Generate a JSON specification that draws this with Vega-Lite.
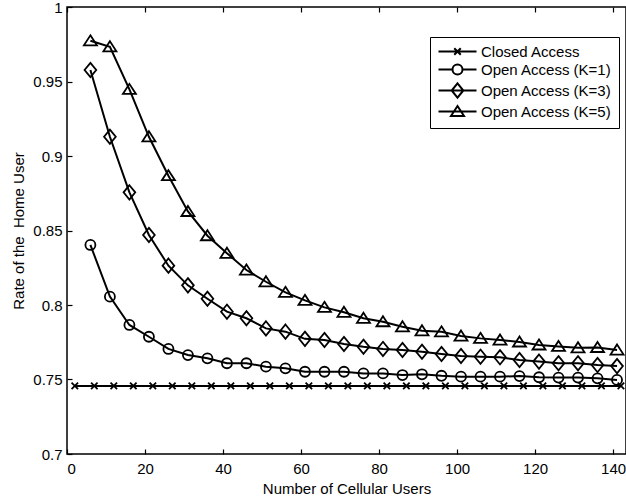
{
  "$schema": "https://vega.github.io/schema/vega-lite/v6.json",
  "width": 559,
  "height": 447,
  "autosize": {"type": "none"},
  "padding": {"left": 67, "top": 7, "right": 0, "bottom": 47},
  "background": "white",
  "config": {
    "font": "Liberation Sans",
    "view": {"stroke": "black", "strokeWidth": 1.5},
    "axis": {
      "labelFont": "Liberation Sans",
      "titleFont": "Liberation Sans",
      "labelFontSize": 15,
      "titleFontSize": 15,
      "titleFontWeight": "normal",
      "labelColor": "black",
      "titleColor": "black",
      "domain": false,
      "tickColor": "black",
      "tickWidth": 1.2,
      "tickSize": 5,
      "offset": -5,
      "grid": false
    }
  },
  "data": {
    "values": [
      {"series": "Closed Access", "x": 2, "y": 0.7457},
      {"series": "Closed Access", "x": 7, "y": 0.7457},
      {"series": "Closed Access", "x": 12, "y": 0.7457},
      {"series": "Closed Access", "x": 17, "y": 0.7457},
      {"series": "Closed Access", "x": 22, "y": 0.7457},
      {"series": "Closed Access", "x": 27, "y": 0.7457},
      {"series": "Closed Access", "x": 32, "y": 0.7457},
      {"series": "Closed Access", "x": 37, "y": 0.7457},
      {"series": "Closed Access", "x": 42, "y": 0.7457},
      {"series": "Closed Access", "x": 47, "y": 0.7457},
      {"series": "Closed Access", "x": 52, "y": 0.7457},
      {"series": "Closed Access", "x": 57, "y": 0.7457},
      {"series": "Closed Access", "x": 62, "y": 0.7457},
      {"series": "Closed Access", "x": 67, "y": 0.7457},
      {"series": "Closed Access", "x": 72, "y": 0.7457},
      {"series": "Closed Access", "x": 77, "y": 0.7457},
      {"series": "Closed Access", "x": 82, "y": 0.7457},
      {"series": "Closed Access", "x": 87, "y": 0.7457},
      {"series": "Closed Access", "x": 92, "y": 0.7457},
      {"series": "Closed Access", "x": 97, "y": 0.7457},
      {"series": "Closed Access", "x": 102, "y": 0.7457},
      {"series": "Closed Access", "x": 107, "y": 0.7457},
      {"series": "Closed Access", "x": 112, "y": 0.7457},
      {"series": "Closed Access", "x": 117, "y": 0.7457},
      {"series": "Closed Access", "x": 122, "y": 0.7457},
      {"series": "Closed Access", "x": 127, "y": 0.7457},
      {"series": "Closed Access", "x": 132, "y": 0.7457},
      {"series": "Closed Access", "x": 137, "y": 0.7457},
      {"series": "Closed Access", "x": 142, "y": 0.7457},

      {"series": "Open Access (K=1)", "x": 6, "y": 0.8403},
      {"series": "Open Access (K=1)", "x": 11, "y": 0.8056},
      {"series": "Open Access (K=1)", "x": 16, "y": 0.7866},
      {"series": "Open Access (K=1)", "x": 21, "y": 0.7787},
      {"series": "Open Access (K=1)", "x": 26, "y": 0.7705},
      {"series": "Open Access (K=1)", "x": 31, "y": 0.7664},
      {"series": "Open Access (K=1)", "x": 36, "y": 0.7642},
      {"series": "Open Access (K=1)", "x": 41, "y": 0.7609},
      {"series": "Open Access (K=1)", "x": 46, "y": 0.7609},
      {"series": "Open Access (K=1)", "x": 51, "y": 0.7586},
      {"series": "Open Access (K=1)", "x": 56, "y": 0.7575},
      {"series": "Open Access (K=1)", "x": 61, "y": 0.7552},
      {"series": "Open Access (K=1)", "x": 66, "y": 0.7552},
      {"series": "Open Access (K=1)", "x": 71, "y": 0.7552},
      {"series": "Open Access (K=1)", "x": 76, "y": 0.7541},
      {"series": "Open Access (K=1)", "x": 81, "y": 0.7541},
      {"series": "Open Access (K=1)", "x": 86, "y": 0.7530},
      {"series": "Open Access (K=1)", "x": 91, "y": 0.7535},
      {"series": "Open Access (K=1)", "x": 96, "y": 0.7525},
      {"series": "Open Access (K=1)", "x": 101, "y": 0.7519},
      {"series": "Open Access (K=1)", "x": 106, "y": 0.7519},
      {"series": "Open Access (K=1)", "x": 111, "y": 0.7519},
      {"series": "Open Access (K=1)", "x": 116, "y": 0.7523},
      {"series": "Open Access (K=1)", "x": 121, "y": 0.7515},
      {"series": "Open Access (K=1)", "x": 126, "y": 0.7513},
      {"series": "Open Access (K=1)", "x": 131, "y": 0.7513},
      {"series": "Open Access (K=1)", "x": 136, "y": 0.7508},
      {"series": "Open Access (K=1)", "x": 141, "y": 0.7497},

      {"series": "Open Access (K=3)", "x": 6, "y": 0.9577},
      {"series": "Open Access (K=3)", "x": 11, "y": 0.9129},
      {"series": "Open Access (K=3)", "x": 16, "y": 0.8756},
      {"series": "Open Access (K=3)", "x": 21, "y": 0.8470},
      {"series": "Open Access (K=3)", "x": 26, "y": 0.8264},
      {"series": "Open Access (K=3)", "x": 31, "y": 0.8132},
      {"series": "Open Access (K=3)", "x": 36, "y": 0.8042},
      {"series": "Open Access (K=3)", "x": 41, "y": 0.7955},
      {"series": "Open Access (K=3)", "x": 46, "y": 0.7911},
      {"series": "Open Access (K=3)", "x": 51, "y": 0.7843},
      {"series": "Open Access (K=3)", "x": 56, "y": 0.7821},
      {"series": "Open Access (K=3)", "x": 61, "y": 0.7773},
      {"series": "Open Access (K=3)", "x": 66, "y": 0.7765},
      {"series": "Open Access (K=3)", "x": 71, "y": 0.7738},
      {"series": "Open Access (K=3)", "x": 76, "y": 0.7720},
      {"series": "Open Access (K=3)", "x": 81, "y": 0.7705},
      {"series": "Open Access (K=3)", "x": 86, "y": 0.7698},
      {"series": "Open Access (K=3)", "x": 91, "y": 0.7686},
      {"series": "Open Access (K=3)", "x": 96, "y": 0.7671},
      {"series": "Open Access (K=3)", "x": 101, "y": 0.7658},
      {"series": "Open Access (K=3)", "x": 106, "y": 0.7653},
      {"series": "Open Access (K=3)", "x": 111, "y": 0.7649},
      {"series": "Open Access (K=3)", "x": 116, "y": 0.7631},
      {"series": "Open Access (K=3)", "x": 121, "y": 0.7620},
      {"series": "Open Access (K=3)", "x": 126, "y": 0.7609},
      {"series": "Open Access (K=3)", "x": 131, "y": 0.7609},
      {"series": "Open Access (K=3)", "x": 136, "y": 0.7597},
      {"series": "Open Access (K=3)", "x": 141, "y": 0.7590},

      {"series": "Open Access (K=5)", "x": 6, "y": 0.9773},
      {"series": "Open Access (K=5)", "x": 11, "y": 0.9733},
      {"series": "Open Access (K=5)", "x": 16, "y": 0.9447},
      {"series": "Open Access (K=5)", "x": 21, "y": 0.9129},
      {"series": "Open Access (K=5)", "x": 26, "y": 0.8868},
      {"series": "Open Access (K=5)", "x": 31, "y": 0.8628},
      {"series": "Open Access (K=5)", "x": 36, "y": 0.8465},
      {"series": "Open Access (K=5)", "x": 41, "y": 0.8347},
      {"series": "Open Access (K=5)", "x": 46, "y": 0.8235},
      {"series": "Open Access (K=5)", "x": 51, "y": 0.8156},
      {"series": "Open Access (K=5)", "x": 56, "y": 0.8085},
      {"series": "Open Access (K=5)", "x": 61, "y": 0.8031},
      {"series": "Open Access (K=5)", "x": 66, "y": 0.7984},
      {"series": "Open Access (K=5)", "x": 71, "y": 0.7951},
      {"series": "Open Access (K=5)", "x": 76, "y": 0.7911},
      {"series": "Open Access (K=5)", "x": 81, "y": 0.7888},
      {"series": "Open Access (K=5)", "x": 86, "y": 0.7854},
      {"series": "Open Access (K=5)", "x": 91, "y": 0.7827},
      {"series": "Open Access (K=5)", "x": 96, "y": 0.7820},
      {"series": "Open Access (K=5)", "x": 101, "y": 0.7792},
      {"series": "Open Access (K=5)", "x": 106, "y": 0.7776},
      {"series": "Open Access (K=5)", "x": 111, "y": 0.7765},
      {"series": "Open Access (K=5)", "x": 116, "y": 0.7752},
      {"series": "Open Access (K=5)", "x": 121, "y": 0.7732},
      {"series": "Open Access (K=5)", "x": 126, "y": 0.7722},
      {"series": "Open Access (K=5)", "x": 131, "y": 0.7713},
      {"series": "Open Access (K=5)", "x": 136, "y": 0.7715},
      {"series": "Open Access (K=5)", "x": 141, "y": 0.7698}
    ]
  },
  "resolve": {"axis": {"x": "independent"}, "scale": {"shape": "independent"}, "legend": {"shape": "independent"}},
  "layer": [
    {
      "mark": {"type": "line", "color": "black", "strokeWidth": 2, "clip": true},
      "encoding": {
        "x": {
          "field": "x", "type": "quantitative",
          "scale": {"domain": [0, 143.3], "nice": false, "zero": false},
          "axis": {
            "orient": "bottom",
            "values": [0, 20, 40, 60, 80, 100, 120, 140],
            "title": "Number of Cellular Users",
            "labelPadding": 7,
            "titlePadding": 5
          }
        },
        "y": {
          "field": "y", "type": "quantitative",
          "scale": {"domain": [0.7, 1], "nice": false, "zero": false},
          "axis": {
            "values": [0.7, 0.75, 0.8, 0.85, 0.9, 0.95, 1],
            "format": "~g",
            "title": "Rate of the\u00a0 Home User",
            "labelPadding": 5,
            "titlePadding": 6
          }
        },
        "detail": {"field": "series", "type": "nominal"}
      }
    },
    {
      "mark": {"type": "point", "filled": false, "color": "black", "strokeWidth": 1.8, "size": 169, "opacity": 1, "clip": true},
      "encoding": {
        "x": {
          "field": "x", "type": "quantitative",
          "axis": {
            "orient": "top",
            "values": [0, 20, 40, 60, 80, 100, 120, 140],
            "labels": false,
            "title": null
          }
        },
        "y": {"field": "y", "type": "quantitative"},
        "shape": {
          "field": "series", "type": "nominal",
          "scale": {
            "domain": ["Closed Access", "Open Access (K=1)", "Open Access (K=3)", "Open Access (K=5)"],
            "range": [
              "M-0.5,-0.5L0.5,0.5M-0.5,0.5L0.5,-0.5",
              "M0.77,0A0.77,0.77,0,1,1,-0.77,0A0.77,0.77,0,1,1,0.77,0Z",
              "M0,-1.1L0.9,0L0,1.1L-0.9,0Z",
              "M0,-0.85L1,0.7L-1,0.7Z"
            ]
          },
          "legend": null
        }
      }
    },
    {
      "mark": {"type": "point", "filled": false, "color": "black", "strokeWidth": 2, "size": 100, "opacity": 0, "clip": true},
      "encoding": {
        "x": {"field": "x", "type": "quantitative", "axis": null},
        "y": {"field": "y", "type": "quantitative"},
        "shape": {
          "field": "series", "type": "nominal",
          "scale": {
            "domain": ["Closed Access", "Open Access (K=1)", "Open Access (K=3)", "Open Access (K=5)"],
            "range": [
              "M-3.8,0L3.8,0M-0.65,-0.65L0.65,0.65M-0.65,0.65L0.65,-0.65",
              "M-3.8,0L-1,0M1,0L3.8,0M1,0A1,1,0,1,1,-1,0A1,1,0,1,1,1,0Z",
              "M-3.8,0L3.8,0M0,-1.43L1.17,0L0,1.43L-1.17,0Z",
              "M-3.8,0L3.8,0M0,-1.1L1.3,0.91L-1.3,0.91Z"
            ]
          },
          "legend": {
            "title": null,
            "orient": "none",
            "legendX": 363,
            "legendY": 30,
            "strokeColor": "black",
            "fillColor": "white",
            "padding": 7,
            "labelFont": "Liberation Sans",
            "labelFontSize": 15,
            "labelColor": "black",
            "labelOffset": 16,
            "symbolOffset": 13,
            "symbolSize": 100,
            "symbolStrokeWidth": 2,
            "symbolStrokeColor": "black",
            "symbolFillColor": "transparent",
            "symbolOpacity": 1,
            "rowPadding": 0
          }
        }
      }
    }
  ]
}
